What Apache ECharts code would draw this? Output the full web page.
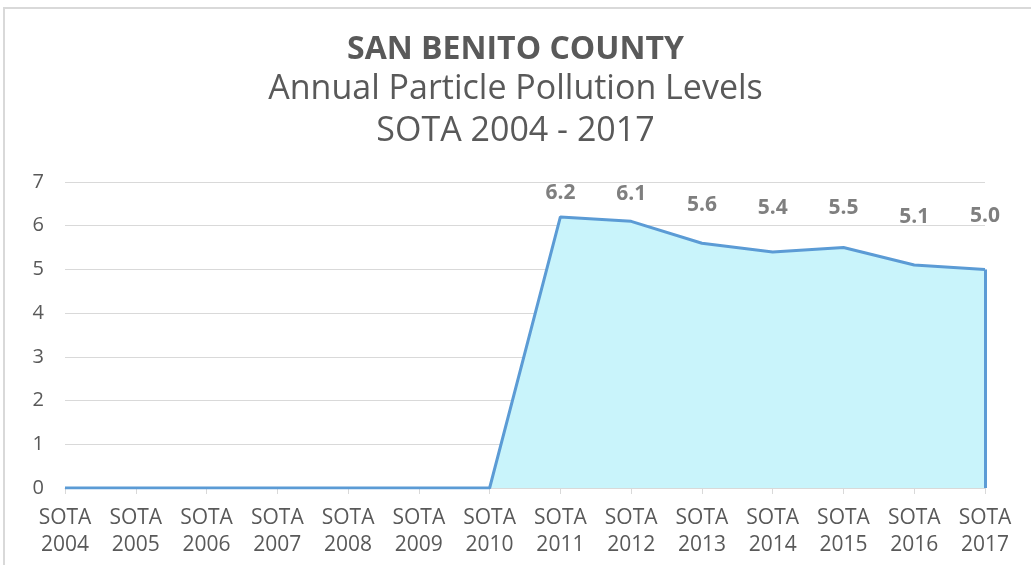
<!DOCTYPE html>
<html>
<head>
<meta charset="utf-8">
<script src="https://cdn.jsdelivr.net/npm/echarts@6/dist/echarts.min.js"></script>
<style>
  html, body { margin: 0; padding: 0; background: #fff; }
  #frame { position: absolute; left: 3px; top: 7px; width: 1040px; height: 570px;
           border-left: 2px solid #d9d9d9; border-top: 2px solid #d9d9d9; }
  #chart { width: 1031px; height: 565px; position: absolute; left: 0; top: 0; }
</style>
</head>
<body>
<div id="frame"></div>
<div id="chart"></div>
<script>
const years = ['2004', '2005', '2006', '2007', '2008', '2009', '2010',
               '2011', '2012', '2013', '2014', '2015', '2016', '2017'];
const levels = [0, 0, 0, 0, 0, 0, 0, 6.2, 6.1, 5.6, 5.4, 5.5, 5.1, 5.0];
const yTicks = [0, 1, 2, 3, 4, 5, 6, 7];
// how far each value label sits above its point (pixels), as placed in the original
const labelGap = [0, 0, 0, 0, 0, 0, 0, 13, 16, 27, 33, 29, 37, 42];

const chart = echarts.init(document.getElementById('chart'));
const font = '"Open Sans", "Noto Sans", sans-serif';

chart.setOption({
  animation: false,
  title: [
    { text: 'SAN BENITO COUNTY', left: 'center', top: 29,
      textStyle: { fontFamily: font, fontSize: 32, fontWeight: 'bold', color: '#595959' } },
    { text: 'Annual Particle Pollution Levels', left: 'center', top: 67,
      textStyle: { fontFamily: font, fontSize: 34, fontWeight: 'normal', color: '#595959' } },
    { text: 'SOTA 2004 - 2017', left: 'center', top: 109,
      textStyle: { fontFamily: font, fontSize: 34, fontWeight: 'normal', color: '#595959' } }
  ],
  grid: { left: 65, right: 46, top: 182, bottom: 77 },
  xAxis: {
    type: 'category',
    data: years.map(y => 'SOTA\n' + y),
    boundaryGap: false,
    axisLine: { lineStyle: { color: '#d9d9d9', width: 1 } },
    axisTick: { show: true, length: 6, lineStyle: { color: '#d9d9d9' } },
    axisLabel: { color: '#595959', fontFamily: font, fontSize: 21, lineHeight: 27, margin: 17 }
  },
  yAxis: {
    type: 'value',
    min: yTicks[0],
    max: yTicks[yTicks.length - 1],
    interval: 1,
    axisLine: { show: false },
    axisTick: { show: false },
    axisLabel: { color: '#595959', fontFamily: font, fontSize: 20, margin: 21 },
    splitLine: { lineStyle: { color: '#d9d9d9', width: 1 } }
  },
  series: [{
    type: 'line',
    data: levels.map((v, i) => ({ value: v, label: { distance: labelGap[i] } })),
    symbol: 'circle',
    symbolSize: 1,
    showSymbol: true,
    itemStyle: { color: 'rgba(0,0,0,0)' },
    lineStyle: { color: '#5b9bd5', width: 3 },
    areaStyle: { color: '#c9f4fb', opacity: 1 },
    label: {
      show: true,
      position: 'top',
      fontFamily: font,
      fontSize: 21,
      fontWeight: 'bold',
      color: '#7f7f7f',
      formatter: p => p.value > 0 ? p.value.toFixed(1) : ''
    },
    z: 3
  }, {
    // right edge of the area outline drops to zero at the last category
    type: 'line',
    data: years.map((y, i) => i === years.length - 1 ? levels[i] : null),
    markLine: {
      silent: true,
      symbol: 'none',
      label: { show: false },
      lineStyle: { color: '#5b9bd5', width: 3, type: 'solid' },
      data: [[{ coord: [years.length - 1, levels[levels.length - 1]] },
              { coord: [years.length - 1, 0] }]]
    },
    symbol: 'none',
    z: 4
  }]
});
</script>
</body>
</html>
